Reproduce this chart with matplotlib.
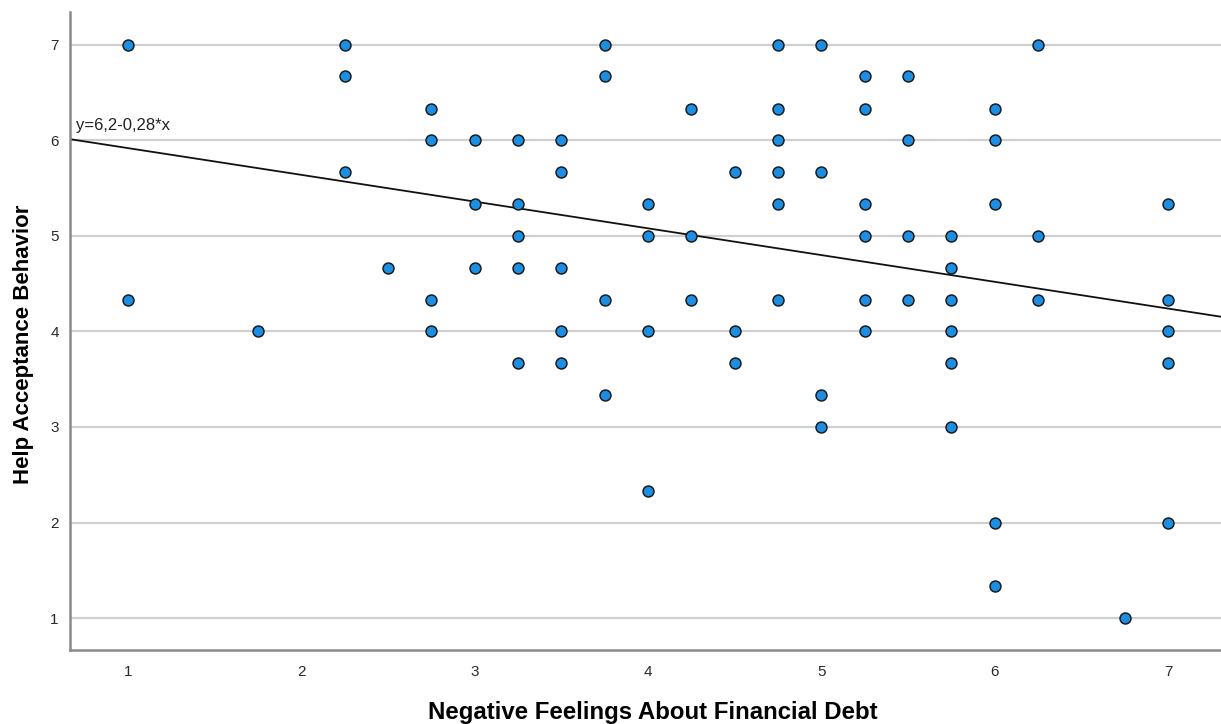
import numpy as np
import matplotlib.pyplot as plt

plt.rcParams['font.family'] = ['Liberation Sans', 'DejaVu Sans']

# ───────────────────────────────────────────────
# Data (x column -> y values)
# ───────────────────────────────────────────────
x_1 = [1, 1]
y_1 = [7, 4.33]
x_2 = [1.75, 2.25, 2.25, 2.25, 2.5, 2.75, 2.75, 2.75, 2.75]
y_2 = [4, 7, 6.67, 5.67, 4.67, 6.33, 6, 4.33, 4]
x_3 = [3, 3, 3, 3.25, 3.25, 3.25, 3.25, 3.25, 3.5, 3.5, 3.5, 3.5, 3.5,
       3.75, 3.75, 3.75, 3.75]
y_3 = [6, 5.33, 4.67, 6, 5.33, 5, 4.67, 3.67, 6, 5.67, 4.67, 4, 3.67,
       7, 6.67, 4.33, 3.33]
x_4 = [4, 4, 4, 4, 4.25, 4.25, 4.25, 4.5, 4.5, 4.5,
       4.75, 4.75, 4.75, 4.75, 4.75, 4.75]
y_4 = [5.33, 5, 4, 2.33, 6.33, 5, 4.33, 5.67, 4, 3.67,
       7, 6.33, 6, 5.67, 5.33, 4.33]
x_5 = [5, 5, 5, 5, 5.25, 5.25, 5.25, 5.25, 5.25, 5.25,
       5.5, 5.5, 5.5, 5.5, 5.75, 5.75, 5.75, 5.75, 5.75, 5.75]
y_5 = [7, 5.67, 3.33, 3, 6.67, 6.33, 5.33, 5, 4.33, 4,
       6.67, 6, 5, 4.33, 5, 4.67, 4.33, 4, 3.67, 3]
x_6 = [6, 6, 6, 6, 6, 6.25, 6.25, 6.25, 6.75, 7, 7, 7, 7, 7]
y_6 = [6.33, 6, 5.33, 2, 1.33, 7, 5, 4.33, 1, 5.33, 4.33, 4, 3.67, 2]

x = np.array(x_1 + x_2 + x_3 + x_4 + x_5 + x_6)
y = np.array(y_1 + y_2 + y_3 + y_4 + y_5 + y_6)

# fit line as printed on the chart
intercept = 6.2
slope = -0.28

y_ticks = [1, 2, 3, 4, 5, 6, 7]
x_ticks = [1, 2, 3, 4, 5, 6, 7]

# ───────────────────────────────────────────────
# Plot
# ───────────────────────────────────────────────
fig = plt.figure(figsize=(12.21, 7.24), dpi=100)
ax = fig.add_axes([0.0573, 0.1022, 0.9427, 0.8812])

xlim = (0.665, 7.305)
ylim = (0.665, 7.345)
ax.set_xlim(*xlim)
ax.set_ylim(*ylim)

for yt in y_ticks:
    ax.axhline(yt, color='#cfcfcf', lw=1.6, zorder=1)

xx = np.array(xlim)
ax.plot(xx, intercept + slope * xx, color='#111111', lw=1.3, zorder=2)

ax.scatter(x, y, s=62, c='#1a8fe3', edgecolors='#1c1c1c', linewidths=1.1, zorder=3)

ax.text(0.7, 6.08, 'y=6,2-0,28*x', fontsize=12, color='#222222', ha='left', va='bottom')

ax.set_xticks(x_ticks)
ax.set_yticks(y_ticks)
ax.tick_params(length=0, labelsize=11, labelcolor='#2a2a2a')
ax.tick_params(axis='y', pad=8)
ax.tick_params(axis='x', pad=11)

for s in ('top', 'right'):
    ax.spines[s].set_visible(False)
for s in ('left', 'bottom'):
    ax.spines[s].set_color('#8a8a8a')
    ax.spines[s].set_linewidth(1.8)

ax.set_xlabel('Negative Feelings About Financial Debt', fontsize=17.3, fontweight='bold')
ax.xaxis.set_label_coords(0.506, -0.098)
ax.xaxis.label.set_va('center')
ax.set_ylabel('Help Acceptance Behavior', fontsize=16, fontweight='bold')
ax.yaxis.set_label_coords(-0.04, 0.479)
ax.yaxis.label.set_va('center')

fig.savefig('out.png', dpi=100)
